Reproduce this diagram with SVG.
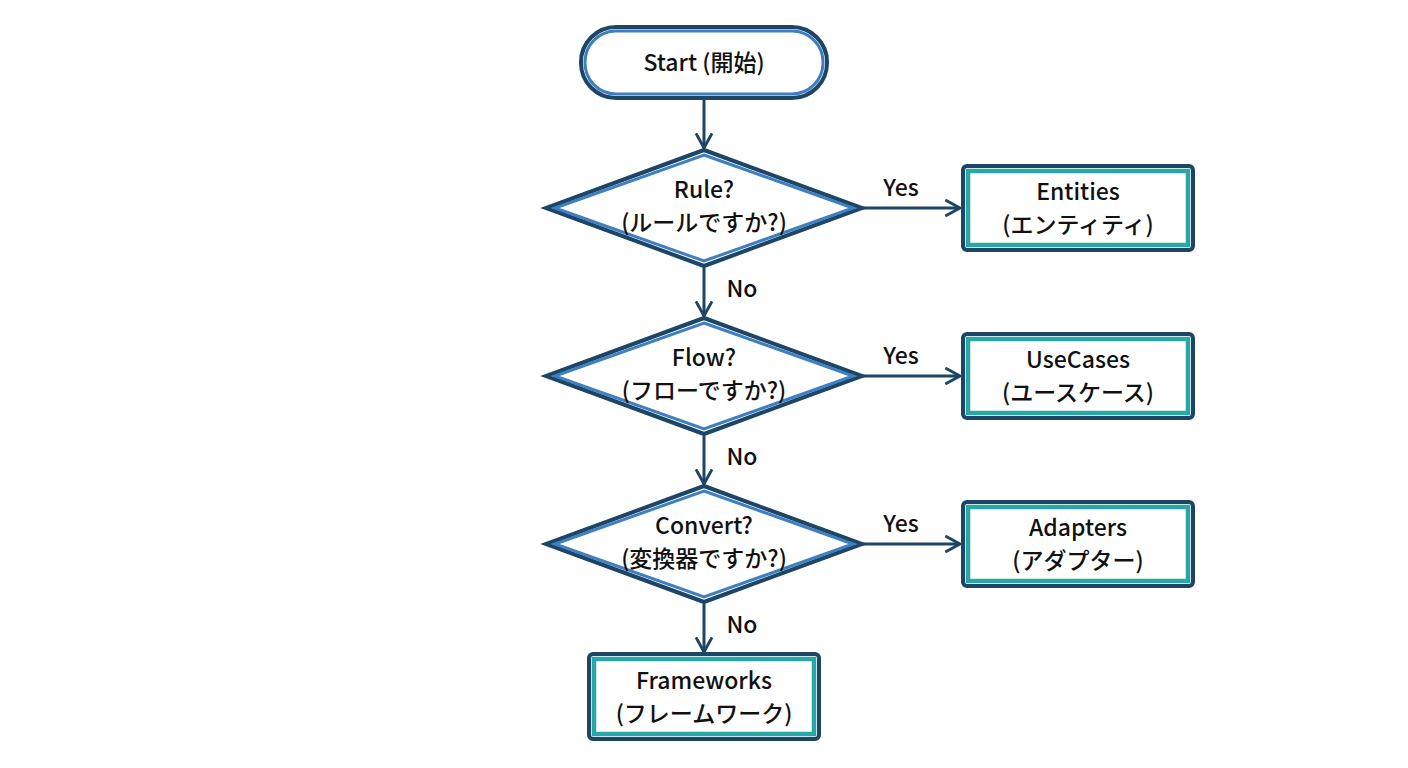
<svg xmlns="http://www.w3.org/2000/svg" width="1408" height="768" viewBox="0 0 1408 768">
<style>
.o{fill:#fff;stroke:#1d4566;stroke-width:4}
.ib{fill:none;stroke:#3d7fc0;stroke-width:3}
.it{fill:none;stroke:#2aa6a6;stroke-width:4.5}
.t{font-family:"Noto Sans CJK JP","Liberation Sans",sans-serif;font-weight:500;font-size:23px;fill:#111;text-anchor:middle}
.c{stroke:#1d4566;stroke-width:3;fill:none;marker-end:url(#a)}
</style>
<defs><marker id="a" viewBox="0 0 12 12" refX="11" refY="6" markerWidth="16" markerHeight="16" markerUnits="userSpaceOnUse" orient="auto" style="overflow:visible"><path d="M0,0 L11,6 L0,12" fill="none" stroke="#1d4566" stroke-width="2.2"/></marker></defs>
<rect width="1408" height="768" fill="#fff"/>
<g id="connectors">
<path class="c" d="M704,100 V148"/>
<path class="c" d="M704,268 V316"/>
<path class="c" d="M704,436 V484"/>
<path class="c" d="M704,604 V652"/>
<path class="c" d="M862,208 H960"/>
<path class="c" d="M862,376 H960"/>
<path class="c" d="M862,544 H960"/>
<text class="t" x="901" y="196">Yes</text>
<text class="t" x="901" y="364">Yes</text>
<text class="t" x="901" y="532">Yes</text>
<text class="t" x="742" y="297">No</text>
<text class="t" x="742" y="465">No</text>
<text class="t" x="742" y="633">No</text>
</g>
<g id="start"><rect class="o" x="581" y="27" width="246" height="71" rx="35"/><rect class="ib" x="585" y="31" width="238" height="63" rx="31"/><text class="t" x="704" y="71">Start (開始)</text></g>
<g id="rule"><polygon class="o" points="704,150 862,208 704,266 546,208"/><polygon class="ib" points="704,155 853,208 704,261 555,208"/><text class="t" x="704" y="198">Rule?</text><text class="t" x="704" y="231">(ルールですか?)</text></g>
<g id="flow"><polygon class="o" points="704,318 862,376 704,434 546,376"/><polygon class="ib" points="704,323 853,376 704,429 555,376"/><text class="t" x="704" y="366">Flow?</text><text class="t" x="704" y="399">(フローですか?)</text></g>
<g id="convert"><polygon class="o" points="704,486 862,544 704,602 546,544"/><polygon class="ib" points="704,491 853,544 704,597 555,544"/><text class="t" x="704" y="534">Convert?</text><text class="t" x="704" y="567">(変換器ですか?)</text></g>
<g id="entities"><rect class="o" x="963" y="166" width="230" height="84" rx="4"/><rect class="it" x="968" y="171" width="220" height="74"/><text class="t" x="1078" y="200">Entities</text><text class="t" x="1078" y="233">(エンティティ)</text></g>
<g id="usecases"><rect class="o" x="963" y="334" width="230" height="84" rx="4"/><rect class="it" x="968" y="339" width="220" height="74"/><text class="t" x="1078" y="368">UseCases</text><text class="t" x="1078" y="401">(ユースケース)</text></g>
<g id="adapters"><rect class="o" x="963" y="502" width="230" height="84" rx="4"/><rect class="it" x="968" y="507" width="220" height="74"/><text class="t" x="1078" y="536">Adapters</text><text class="t" x="1078" y="569">(アダプター)</text></g>
<g id="frameworks"><rect class="o" x="589" y="654" width="230" height="85" rx="4"/><rect class="it" x="594" y="659" width="220" height="75"/><text class="t" x="704" y="689">Frameworks</text><text class="t" x="704" y="722">(フレームワーク)</text></g>
</svg>
